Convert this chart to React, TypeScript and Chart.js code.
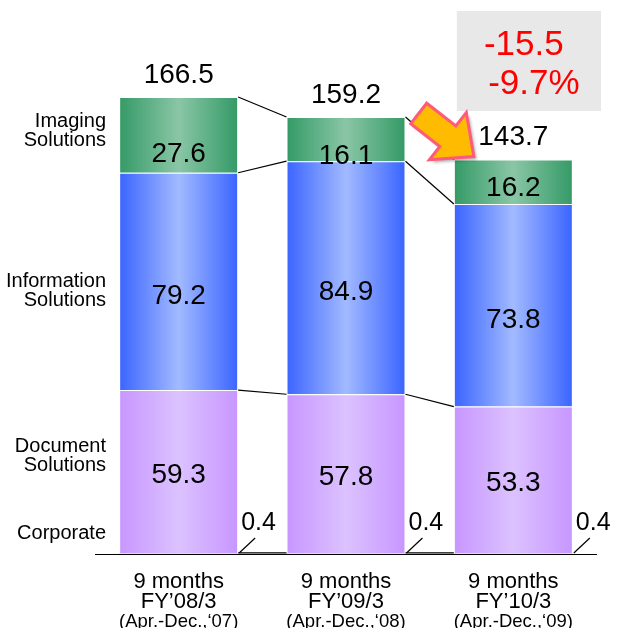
import React, { useEffect, useRef } from "react";
import { Chart, registerables } from "chart.js";

Chart.register(...registerables);

const categories: string[][] = [
  ["9 months", "FY\u201908/3", "(Apr.-Dec.,\u201807)"],
  ["9 months", "FY\u201909/3", "(Apr.-Dec.,\u201808)"],
  ["9 months", "FY\u201910/3", "(Apr.-Dec.,\u201809)"],
];
const corporate = [0.4, 0.4, 0.4];
const documentSol = [59.3, 57.8, 53.3];
const informationSol = [79.2, 84.9, 73.8];
const imagingSol = [27.6, 16.1, 16.2];
const totals = [166.5, 159.2, 143.7];
const changeText = ["-15.5", "-9.7%"];
const segmentNames = [["Corporate"], ["Document", "Solutions"], ["Information", "Solutions"], ["Imaging", "Solutions"]];
// y-values (in data units) where the left-hand segment names sit
const segmentNameAnchors = [7.3, 35.7, 95.8, 154];

const FONT = "'Liberation Sans', Arial, sans-serif";
const BAR_PCT = 0.711;

function grad(edge: string, mid: string) {
  return (ctx: any) => {
    const chart = ctx.chart;
    const area = chart.chartArea;
    if (!area || ctx.dataIndex === undefined || !chart.scales.x) return edge;
    const cx = chart.scales.x.getPixelForValue(ctx.dataIndex);
    const w = (area.width / categories.length) * BAR_PCT;
    const g = chart.ctx.createLinearGradient(cx - w / 2, 0, cx + w / 2, 0);
    g.addColorStop(0, edge);
    g.addColorStop(0.5, mid);
    g.addColorStop(1, edge);
    return g;
  };
}

const overlay = {
  id: "overlay",
  afterDatasetsDraw(chart: any) {
    const c = chart.ctx as CanvasRenderingContext2D;
    const area = chart.chartArea;
    const metas = [0, 1, 2, 3].map((i) => chart.getDatasetMeta(i).data as any[]);
    c.save();

    // axis line
    c.strokeStyle = "#000";
    c.lineWidth = 1.2;
    c.beginPath();
    c.moveTo(area.left, area.bottom + 0.5);
    c.lineTo(area.right, area.bottom + 0.5);
    c.stroke();

    // connector lines between bars
    c.lineWidth = 1.2;
    for (let i = 0; i < categories.length - 1; i++) {
      for (let d = 0; d < 4; d++) {
        const a = metas[d][i];
        const b = metas[d][i + 1];
        c.beginPath();
        c.moveTo(a.x + a.width / 2, a.y);
        c.lineTo(b.x - b.width / 2, b.y);
        c.stroke();
      }
    }

    // corporate leader + labels
    c.fillStyle = "#000";
    c.textBaseline = "middle";
    for (let i = 0; i < categories.length; i++) {
      const el = metas[0][i];
      const r = el.x + el.width / 2;
      c.beginPath();
      c.moveTo(r + 1, el.base - 1);
      c.lineTo(r + 17, el.base - 16);
      c.stroke();
      c.font = `25px ${FONT}`;
      c.textAlign = "left";
      c.fillText(corporate[i].toFixed(1), r + 3, el.base - 31);
    }

    // segment value labels
    const imgNudge = [-18, -5, -16];
    c.textAlign = "center";
    c.font = `28px ${FONT}`;
    for (let i = 0; i < categories.length; i++) {
      const doc = metas[1][i];
      c.fillText(documentSol[i].toFixed(1), doc.x, (doc.y + doc.base) / 2 + 4);
      const inf = metas[2][i];
      c.fillText(informationSol[i].toFixed(1), inf.x, (inf.y + inf.base) / 2 + 15);
      const img = metas[3][i];
      c.fillText(imagingSol[i].toFixed(1), img.x, img.base + imgNudge[i]);
      c.fillText(totals[i].toFixed(1), img.x, img.y - 22);
    }

    // left segment names
    c.font = `20px ${FONT}`;
    c.textAlign = "right";
    const ys = chart.scales.y;
    segmentNames.forEach((lines, k) => {
      const yc = ys.getPixelForValue(segmentNameAnchors[k]);
      lines.forEach((t, j) => {
        c.fillText(t, area.left + 11, yc + (j - (lines.length - 1) / 2) * 19);
      });
    });

    // category labels
    c.textAlign = "center";
    for (let i = 0; i < categories.length; i++) {
      const x = chart.scales.x.getPixelForValue(i);
      c.font = `22px ${FONT}`;
      c.fillText(categories[i][0], x, area.bottom + 28);
      c.fillText(categories[i][1], x, area.bottom + 48);
      c.font = `18.5px ${FONT}`;
      c.fillText(categories[i][2], x, area.bottom + 68);
    }

    // change box
    const last = metas[3][categories.length - 1];
    const bl = last.x - last.width / 2;
    c.fillStyle = "#e8e8e8";
    c.fillRect(bl + 3, 11, area.right + 4 - (bl + 3), 100);
    c.fillStyle = "#ff0000";
    c.font = `35px ${FONT}`;
    c.fillText(changeText[0], bl + 70, 45);
    c.fillText(changeText[1], bl + 80, 84);

    // arrow
    const tipX = bl + 20;
    const tipY = last.y - 3;
    c.translate(tipX, tipY);
    c.rotate((38 * Math.PI) / 180);
    const pts = [
      [0, 0], [-33, -30], [-33, -13], [-70, -13], [-70, 13], [-33, 13], [-33, 30],
    ];
    c.beginPath();
    pts.forEach(([u, v], k) => (k === 0 ? c.moveTo(u, v) : c.lineTo(u, v)));
    c.closePath();
    c.shadowColor = "rgba(0,0,0,0.3)";
    c.shadowBlur = 3;
    c.shadowOffsetX = 3;
    c.shadowOffsetY = 3;
    c.fillStyle = "#ffbb00";
    c.fill();
    c.shadowColor = "transparent";
    c.lineJoin = "miter";
    c.strokeStyle = "#ff5a7a";
    c.lineWidth = 3;
    c.stroke();

    c.restore();
  },
};

export default function App() {
  const ref = useRef<HTMLCanvasElement>(null);
  useEffect(() => {
    if (!ref.current) return;
    const chart = new Chart(ref.current, {
      type: "bar",
      data: {
        labels: categories.map((c) => c.join(" ")),
        datasets: [
          { label: "Corporate", data: corporate, backgroundColor: "#e6d9f7", borderWidth: 0 },
          {
            label: "Document Solutions", data: documentSol,
            backgroundColor: grad("#c796ff", "#dcc2ff"),
            borderColor: "rgba(255,255,255,0.85)", borderWidth: 1,
          },
          {
            label: "Information Solutions", data: informationSol,
            backgroundColor: grad("#3a64ff", "#a2baff"),
            borderColor: "rgba(255,255,255,0.85)", borderWidth: 1,
          },
          {
            label: "Imaging Solutions", data: imagingSol,
            backgroundColor: grad("#349a66", "#8ac6a6"),
            borderColor: "rgba(255,255,255,0.85)", borderWidth: 1,
          },
        ],
      },
      options: {
        responsive: false,
        animation: false,
        layout: { padding: { left: 95, right: 27, top: 5, bottom: 74 } },
        datasets: { bar: { barPercentage: BAR_PCT, categoryPercentage: 1 } },
        scales: {
          x: { stacked: true, display: false },
          y: { stacked: true, display: false, min: 0, max: 200 },
        },
        plugins: { legend: { display: false }, tooltip: { enabled: false } },
      },
      plugins: [overlay],
    });
    return () => chart.destroy();
  }, []);
  return (
    <div style={{ position: "absolute", left: 0, top: 0, width: 624, height: 628, background: "#fff" }}>
      <canvas ref={ref} width={624} height={628} />
    </div>
  );
}
